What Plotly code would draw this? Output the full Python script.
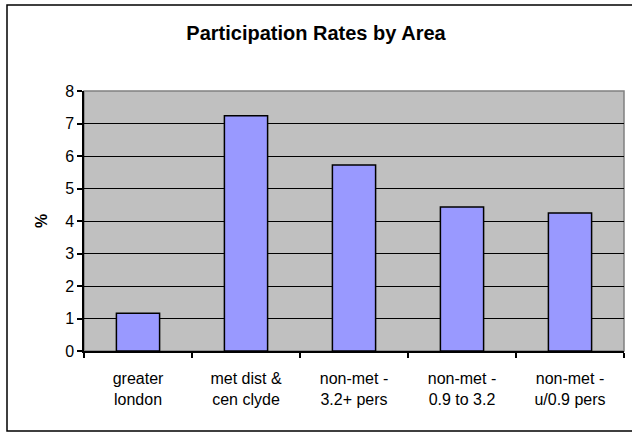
import plotly.graph_objects as go

categories = ["greater<br>london", "met dist &<br>cen clyde", "non-met -<br>3.2+ pers",
              "non-met -<br>0.9 to 3.2", "non-met -<br>u/0.9 pers"]
rates = [1.16, 7.24, 5.72, 4.43, 4.25]
y_ticks = [0, 1, 2, 3, 4, 5, 6, 7, 8]

W, H = 632, 433
L, R, T, B = 84, 8, 91, 82
pw, ph = W - L - R, H - T - B

def px_x(x):
    return (x - L) / pw

def px_y(y):
    return (H - B - y) / ph

fig = go.Figure(go.Bar(
    x=categories, y=rates,
    marker=dict(color="#9999FF", line=dict(color="black", width=1.5)),
    width=0.4,
))

fig.update_layout(
    width=W, height=H,
    margin=dict(l=L, r=R, t=T, b=B),
    paper_bgcolor="white",
    plot_bgcolor="#C0C0C0",
    font=dict(family="Liberation Sans, Arial, sans-serif", size=15, color="black"),
    title=dict(text="<b>Participation Rates by Area</b>", x=0.5, xanchor="center",
               y=1 - 33 / H, yanchor="middle", font=dict(size=20, color="black")),
    showlegend=False,
    bargap=0.6,
    xaxis=dict(
        showline=True, linecolor="black", linewidth=1.5,
        ticks="outside", ticklen=5, tickcolor="black", tickwidth=1.5,
        tickson="boundaries", showgrid=False,
        tickfont=dict(size=16),
        ticklabelstandoff=12,
    ),
    yaxis=dict(
        range=[0, 8], tickvals=y_ticks,
        showline=True, linecolor="black", linewidth=1.5,
        ticks="outside", ticklen=5, tickcolor="black", tickwidth=1.5,
        showgrid=True, gridcolor="black", gridwidth=1.2,
        zeroline=False,
        tickfont=dict(size=16),
        title=dict(text="<b>%</b>", font=dict(size=16), standoff=14),
    ),
    shapes=[
        dict(type="rect", xref="paper", yref="paper",
             x0=0, x1=1, y0=0, y1=1,
             line=dict(color="#808080", width=1.5), layer="between"),
        dict(type="rect", xref="paper", yref="paper",
             x0=px_x(7), x1=px_x(720), y0=px_y(431), y1=px_y(5),
             line=dict(color="black", width=1.5), layer="below"),
    ],
)

fig.write_html("out.html")
